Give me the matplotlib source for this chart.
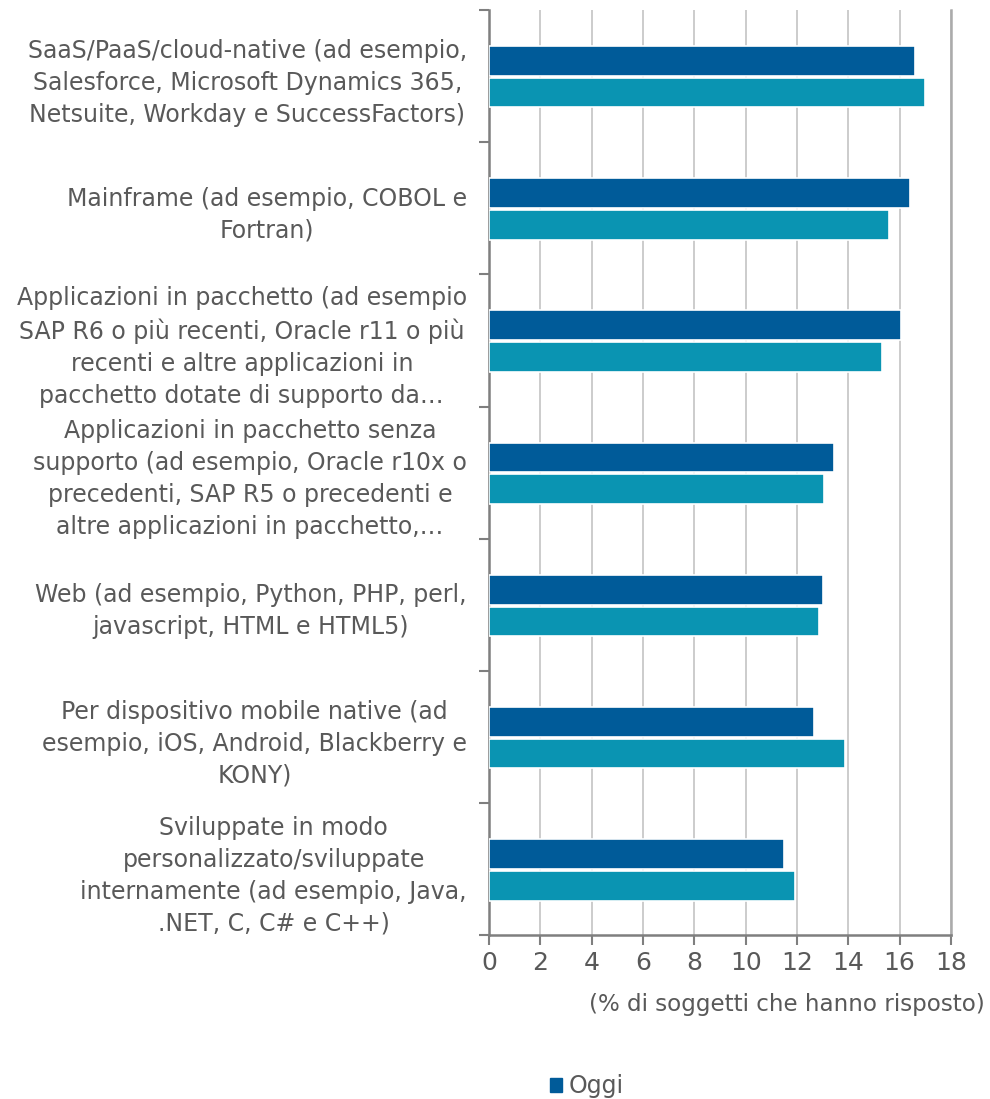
import numpy as np
import matplotlib
matplotlib.use("Agg")
import matplotlib.pyplot as plt
from matplotlib.patches import Patch

# Categorie di applicazioni (dall'alto verso il basso)
categorie = [
    "SaaS/PaaS/cloud-native (ad esempio,\nSalesforce, Microsoft Dynamics 365,\nNetsuite, Workday e SuccessFactors)",
    "Mainframe (ad esempio, COBOL e\nFortran)",
    "Applicazioni in pacchetto (ad esempio\nSAP R6 o più recenti, Oracle r11 o più\nrecenti e altre applicazioni in\npacchetto dotate di supporto da…",
    "Applicazioni in pacchetto senza\nsupporto (ad esempio, Oracle r10x o\nprecedenti, SAP R5 o precedenti e\naltre applicazioni in pacchetto,…",
    "Web (ad esempio, Python, PHP, perl,\njavascript, HTML e HTML5)",
    "Per dispositivo mobile native (ad\nesempio, iOS, Android, Blackberry e\nKONY)",
    "Sviluppate in modo\npersonalizzato/sviluppate\ninternamente (ad esempio, Java,\n.NET, C, C# e C++)",
]

# % di soggetti che hanno risposto
oggi = [16.6, 16.4, 16.05, 13.45, 13.0, 12.65, 11.5]
seconda_serie = [17.0, 15.6, 15.33, 13.07, 12.85, 13.88, 11.93]

x_ticks = [0, 2, 4, 6, 8, 10, 12, 14, 16, 18]

col_oggi = "#005B99"
col_seconda = "#0A94B2"
col_testo = "#595959"

fig = plt.figure(figsize=(9.9, 10.99), dpi=100)
ax = fig.add_axes([0.494, 0.1488, 0.4666, 0.842])

y = np.arange(len(categorie))
h = 0.225
ax.barh(y - 0.116, oggi, height=h, color=col_oggi, edgecolor="white", linewidth=1.2, zorder=3, label="Oggi")
ax.barh(y + 0.124, seconda_serie, height=h, color=col_seconda, edgecolor="white", linewidth=1.2, zorder=3)

ax.set_xlim(0, 18)
ax.set_ylim(len(categorie) - 0.5, -0.5)
ax.set_xticks(x_ticks)
ax.set_xticklabels([str(t) for t in x_ticks], fontsize=18, color=col_testo)
ax.xaxis.grid(True, color="#c8c8c8", linewidth=1.3, zorder=0)

ax.set_yticks(y)
ax.set_yticklabels(categorie, fontsize=17, color=col_testo, multialignment="center", linespacing=1.42)
ax.set_yticks(np.arange(-0.5, len(categorie) + 0.5, 1), minor=True)
ax.tick_params(axis="y", which="major", length=0, pad=16)
ax.tick_params(axis="y", which="minor", length=7, width=1.5, color="#7f7f7f")
ax.tick_params(axis="x", length=7, width=1.5, color="#7f7f7f", pad=4)

for s in ["left", "bottom"]:
    ax.spines[s].set_color("#7f7f7f")
    ax.spines[s].set_linewidth(1.8)
ax.spines["top"].set_visible(False)
ax.spines["right"].set_color("#ababab")
ax.spines["right"].set_linewidth(1.8)

fig.text(985 / 990, 1 - 1005 / 1099, "(% di soggetti che hanno risposto)",
         ha="right", va="center", fontsize=16.6, color=col_testo)

fig.legend(handles=[Patch(color=col_oggi, label="Oggi")], loc="upper left",
           bbox_to_anchor=(536 / 990, 1 - 1060 / 1099), frameon=False,
           handlelength=0.5, handleheight=0.5, handletextpad=0.3,
           fontsize=17, labelcolor=col_testo, borderaxespad=0.2)

fig.savefig("out.png", dpi=100)
